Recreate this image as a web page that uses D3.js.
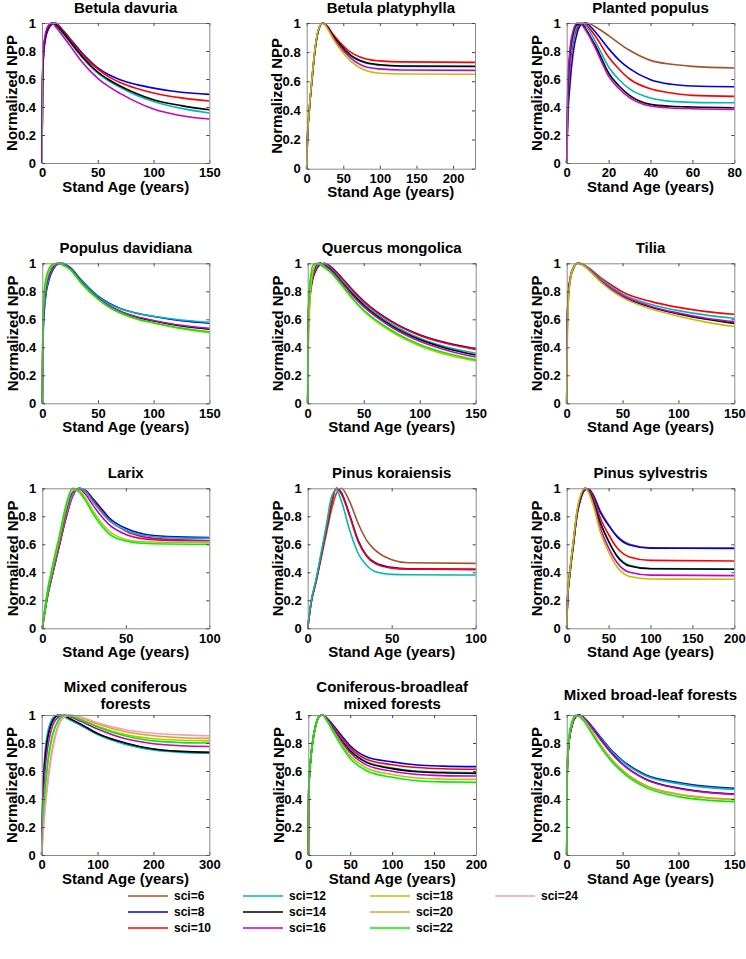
<!DOCTYPE html>
<html>
<head>
<meta charset="utf-8">
<title>Normalized NPP vs stand age</title>
<script src="https://d3js.org/d3.v7.min.js"></script>
<style>
body { margin: 0; background: #fff; }
svg { font-family: "Liberation Sans", Arial, sans-serif; font-weight: bold; }
.axis path { stroke: #8a8a8a; }
.axis line { stroke: #444; }
.axis text { font-family: "Liberation Sans", Arial, sans-serif; font-size: 13px; font-weight: bold; fill: #000; }
.curve { fill: none; stroke-width: 1.6; }
.title, .xlab, .ylab { font-size: 15px; fill: #000; }
.legend text { font-size: 12px; fill: #000; }
</style>
</head>
<body>
<div id="chart"></div>
<script>

/* categories */
var sciLevels = [6, 8, 10, 12, 14, 16, 18, 20, 22, 24];
var panelTitles = [
  ["Betula davuria"], ["Betula platyphylla"], ["Planted populus"],
  ["Populus davidiana"], ["Quercus mongolica"], ["Tilia"],
  ["Larix"], ["Pinus koraiensis"], ["Pinus sylvestris"],
  ["Mixed coniferous", "forests"], ["Coniferous-broadleaf", "mixed forests"], ["Mixed broad-leaf forests"]
];
var ageMax = [150, 230, 80, 150, 150, 150, 100, 100, 200, 300, 200, 150];
var ageTicks = [
  [0, 50, 100, 150], [0, 50, 100, 150, 200], [0, 20, 40, 60, 80],
  [0, 50, 100, 150], [0, 50, 100, 150], [0, 50, 100, 150],
  [0, 50, 100], [0, 50, 100], [0, 50, 100, 150, 200],
  [0, 100, 200, 300], [0, 50, 100, 150, 200], [0, 50, 100, 150]
];
var nppTicks = [0, 0.2, 0.4, 0.6, 0.8, 1];

/* series values */
var ageBetulaDav = [0, 0.5, 1.5, 3, 6, 9, 12, 18, 25, 35, 50, 60, 70, 85, 100, 125, 150];
var nppBetulaDav = {
  8:  [0, 0.55, 0.78, 0.88, 0.96, 0.99, 1.0, 0.955, 0.89, 0.795, 0.68, 0.63, 0.595, 0.56, 0.535, 0.505, 0.49],
  10: [0, 0.58, 0.80, 0.90, 0.97, 0.995, 0.998, 0.95, 0.883, 0.785, 0.67, 0.615, 0.575, 0.532, 0.50, 0.465, 0.443],
  12: [0, 0.60, 0.82, 0.91, 0.98, 1.0, 0.985, 0.935, 0.865, 0.763, 0.642, 0.585, 0.54, 0.482, 0.44, 0.39, 0.357],
  14: [0, 0.60, 0.80, 0.90, 0.975, 1.0, 0.99, 0.94, 0.87, 0.77, 0.65, 0.595, 0.55, 0.495, 0.452, 0.41, 0.38],
  16: [0, 0.62, 0.83, 0.92, 0.985, 1.0, 0.975, 0.915, 0.84, 0.73, 0.605, 0.545, 0.497, 0.435, 0.385, 0.338, 0.314]
};

var ageBetulaPla = [0, 1, 3.5, 7, 11, 16, 22, 28, 35, 45, 60, 80, 100, 130, 230];
var nppBetulaPla = {
  10: [0, 0.2, 0.4, 0.6, 0.8, 0.95, 1.0, 0.98, 0.93, 0.87, 0.80, 0.755, 0.74, 0.733, 0.73],
  12: [0, 0.2, 0.4, 0.6, 0.8, 0.95, 1.0, 0.975, 0.918, 0.85, 0.775, 0.725, 0.71, 0.702, 0.70],
  14: [0, 0.2, 0.4, 0.6, 0.8, 0.95, 1.0, 0.975, 0.92, 0.855, 0.78, 0.73, 0.713, 0.705, 0.703],
  16: [0, 0.2, 0.4, 0.6, 0.8, 0.95, 1.0, 0.97, 0.91, 0.84, 0.76, 0.70, 0.685, 0.677, 0.675],
  18: [0, 0.21, 0.41, 0.61, 0.81, 0.955, 1.0, 0.965, 0.90, 0.825, 0.74, 0.675, 0.655, 0.65, 0.648]
};

var agePlanted = [0, 0.5, 1.5, 3, 5, 7, 9, 11, 14, 20, 25, 30, 40, 50, 60, 80];
var nppPlanted = {
  6:  [0, 0.4, 0.7, 0.87, 0.96, 0.99, 1.0, 0.995, 0.97, 0.91, 0.855, 0.805, 0.733, 0.705, 0.69, 0.679],
  8:  [0, 0.3, 0.55, 0.78, 0.93, 0.99, 1.0, 0.98, 0.93, 0.817, 0.735, 0.674, 0.595, 0.562, 0.55, 0.545],
  10: [0, 0.4, 0.68, 0.86, 0.97, 1.0, 0.99, 0.96, 0.9, 0.757, 0.67, 0.60, 0.53, 0.50, 0.483, 0.476],
  12: [0, 0.45, 0.72, 0.88, 0.98, 1.0, 0.98, 0.94, 0.86, 0.686, 0.595, 0.53, 0.464, 0.44, 0.433, 0.43],
  14: [0, 0.5, 0.77, 0.92, 0.99, 0.995, 0.96, 0.91, 0.83, 0.643, 0.55, 0.483, 0.419, 0.405, 0.40, 0.395],
  16: [0, 0.55, 0.8, 0.94, 1.0, 0.99, 0.95, 0.9, 0.81, 0.62, 0.53, 0.467, 0.407, 0.393, 0.388, 0.383]
};

var agePopulusDav = [0, 0.5, 1.5, 3, 6, 10, 14, 18, 25, 35, 50, 60, 70, 85, 100, 125, 150];
var nppPopulusDav = {
  8:  [0, 0.4, 0.62, 0.76, 0.88, 0.96, 0.995, 1.0, 0.97, 0.88, 0.765, 0.715, 0.678, 0.643, 0.62, 0.59, 0.572],
  12: [0, 0.45, 0.65, 0.78, 0.9, 0.97, 0.998, 0.998, 0.965, 0.875, 0.76, 0.71, 0.675, 0.642, 0.622, 0.595, 0.578],
  14: [0, 0.5, 0.7, 0.82, 0.92, 0.98, 1.0, 0.995, 0.96, 0.865, 0.75, 0.695, 0.655, 0.615, 0.588, 0.552, 0.529],
  16: [0, 0.5, 0.7, 0.82, 0.92, 0.98, 1.0, 0.995, 0.96, 0.866, 0.75, 0.697, 0.658, 0.618, 0.592, 0.557, 0.535],
  18: [0, 0.55, 0.74, 0.85, 0.94, 0.99, 1.0, 0.99, 0.955, 0.858, 0.742, 0.685, 0.643, 0.60, 0.572, 0.532, 0.505],
  22: [0, 0.6, 0.78, 0.88, 0.96, 0.995, 1.0, 0.99, 0.955, 0.86, 0.745, 0.688, 0.647, 0.604, 0.576, 0.537, 0.51]
};

var ageQuercus = [0, 0.5, 1.5, 3, 5, 8, 11, 15, 20, 30, 40, 50, 75, 100, 125, 150];
var nppQuercus = {
  8:  [0, 0.5, 0.7, 0.82, 0.9, 0.96, 0.99, 1.0, 0.98, 0.90, 0.81, 0.73, 0.585, 0.49, 0.43, 0.39],
  10: [0, 0.52, 0.72, 0.84, 0.91, 0.97, 0.995, 0.998, 0.975, 0.895, 0.805, 0.725, 0.58, 0.485, 0.425, 0.385],
  12: [0, 0.55, 0.75, 0.86, 0.93, 0.98, 1.0, 0.99, 0.965, 0.88, 0.79, 0.71, 0.565, 0.465, 0.40, 0.358],
  14: [0, 0.58, 0.77, 0.88, 0.94, 0.99, 1.0, 0.985, 0.96, 0.87, 0.78, 0.70, 0.553, 0.455, 0.39, 0.345],
  16: [0, 0.6, 0.79, 0.89, 0.95, 0.995, 1.0, 0.98, 0.955, 0.865, 0.77, 0.69, 0.543, 0.443, 0.377, 0.33],
  18: [0, 0.35, 0.65, 0.85, 0.95, 0.995, 0.995, 0.975, 0.94, 0.845, 0.745, 0.66, 0.51, 0.41, 0.345, 0.302],
  22: [0, 0.6, 0.82, 0.93, 0.99, 1.0, 0.99, 0.97, 0.94, 0.85, 0.75, 0.665, 0.52, 0.42, 0.355, 0.31]
};

var ageTilia = [0, 0.5, 1.5, 3, 6, 10, 14, 20, 30, 40, 50, 75, 100, 125, 150];
var nppTilia = {
  10: [0, 0.55, 0.75, 0.87, 0.96, 1.0, 0.995, 0.965, 0.9, 0.845, 0.795, 0.728, 0.685, 0.655, 0.636],
  12: [0, 0.56, 0.76, 0.88, 0.965, 1.0, 0.993, 0.96, 0.89, 0.83, 0.78, 0.708, 0.662, 0.63, 0.607],
  14: [0, 0.58, 0.78, 0.89, 0.97, 1.0, 0.99, 0.953, 0.877, 0.815, 0.765, 0.688, 0.638, 0.6, 0.571],
  16: [0, 0.57, 0.77, 0.885, 0.97, 1.0, 0.99, 0.955, 0.88, 0.82, 0.77, 0.694, 0.645, 0.608, 0.583],
  18: [0, 0.4, 0.7, 0.87, 0.97, 1.0, 0.988, 0.95, 0.87, 0.805, 0.755, 0.675, 0.622, 0.58, 0.548]
};

var ageLarix = [0, 3, 6, 10, 14, 18, 22, 26, 30, 35, 40, 50, 60, 75, 100];
var nppLarix = {
  8:  [0, 0.22, 0.38, 0.58, 0.78, 0.94, 1.0, 0.985, 0.93, 0.86, 0.79, 0.714, 0.675, 0.655, 0.648],
  10: [0, 0.22, 0.38, 0.58, 0.78, 0.94, 1.0, 0.98, 0.92, 0.845, 0.775, 0.695, 0.655, 0.635, 0.627],
  12: [0, 0.23, 0.39, 0.60, 0.80, 0.95, 1.0, 0.975, 0.91, 0.835, 0.77, 0.70, 0.665, 0.648, 0.643],
  16: [0, 0.24, 0.40, 0.61, 0.82, 0.97, 0.995, 0.955, 0.885, 0.805, 0.74, 0.67, 0.64, 0.628, 0.625],
  18: [0, 0.25, 0.42, 0.63, 0.85, 0.99, 0.985, 0.925, 0.845, 0.76, 0.695, 0.635, 0.618, 0.615, 0.614],
  22: [0, 0.26, 0.44, 0.65, 0.87, 1.0, 0.975, 0.91, 0.825, 0.74, 0.675, 0.624, 0.607, 0.602, 0.60]
};

var ageKoraiensis = [0, 2, 5, 8, 11, 14, 17, 20, 25, 30, 35, 40, 50, 60, 100];
var nppKoraiensis = {
  6:  [0, 0.18, 0.33, 0.50, 0.67, 0.84, 0.96, 1.0, 0.905, 0.75, 0.63, 0.56, 0.49, 0.468, 0.464],
  8:  [0, 0.18, 0.34, 0.52, 0.70, 0.88, 1.0, 0.97, 0.81, 0.63, 0.52, 0.47, 0.435, 0.425, 0.421],
  10: [0, 0.18, 0.34, 0.52, 0.70, 0.88, 1.0, 0.96, 0.80, 0.62, 0.515, 0.464, 0.43, 0.423, 0.421],
  12: [0, 0.19, 0.35, 0.54, 0.73, 0.93, 0.99, 0.91, 0.70, 0.536, 0.45, 0.405, 0.385, 0.382, 0.381]
};

var ageSylvestris = [0, 1, 4, 8, 12, 17, 22, 26, 32, 40, 50, 60, 75, 100, 200];
var nppSylvestris = {
  6:  [0, 0.2, 0.4, 0.6, 0.8, 0.93, 0.99, 0.995, 0.95, 0.84, 0.74, 0.66, 0.60, 0.575, 0.572],
  8:  [0, 0.2, 0.4, 0.6, 0.8, 0.93, 0.99, 0.995, 0.945, 0.83, 0.735, 0.655, 0.595, 0.573, 0.571],
  10: [0, 0.2, 0.4, 0.6, 0.8, 0.935, 0.995, 0.99, 0.93, 0.79, 0.67, 0.575, 0.51, 0.485, 0.481],
  12: [0, 0.2, 0.41, 0.61, 0.81, 0.94, 1.0, 0.985, 0.91, 0.76, 0.625, 0.52, 0.45, 0.427, 0.424],
  14: [0, 0.2, 0.41, 0.61, 0.81, 0.94, 1.0, 0.985, 0.905, 0.755, 0.62, 0.515, 0.445, 0.425, 0.422],
  16: [0, 0.21, 0.42, 0.62, 0.82, 0.95, 1.0, 0.98, 0.89, 0.72, 0.575, 0.47, 0.40, 0.38, 0.376],
  18: [0, 0.21, 0.42, 0.63, 0.83, 0.96, 1.0, 0.97, 0.87, 0.69, 0.545, 0.44, 0.37, 0.352, 0.35]
};

var ageMixedCon = [0, 2, 5, 10, 15, 20, 30, 40, 50, 70, 100, 150, 200, 250, 300];
var nppMixedCon = {
  8:  [0, 0.40, 0.65, 0.83, 0.92, 0.97, 1.0, 0.99, 0.97, 0.93, 0.865, 0.795, 0.755, 0.738, 0.732],
  12: [0, 0.42, 0.68, 0.86, 0.94, 0.98, 1.0, 0.99, 0.965, 0.925, 0.86, 0.79, 0.75, 0.733, 0.727],
  14: [0, 0.38, 0.63, 0.82, 0.91, 0.96, 0.995, 0.995, 0.975, 0.935, 0.868, 0.80, 0.757, 0.74, 0.733],
  16: [0, 0.30, 0.55, 0.75, 0.86, 0.93, 0.985, 1.0, 0.99, 0.955, 0.90, 0.83, 0.795, 0.78, 0.775],
  18: [0, 0.20, 0.40, 0.62, 0.76, 0.86, 0.96, 0.995, 0.995, 0.97, 0.92, 0.86, 0.83, 0.82, 0.815],
  20: [0, 0.15, 0.30, 0.50, 0.66, 0.78, 0.93, 0.99, 1.0, 0.98, 0.935, 0.88, 0.852, 0.838, 0.833],
  22: [0, 0.22, 0.42, 0.64, 0.78, 0.87, 0.965, 0.997, 0.995, 0.965, 0.915, 0.85, 0.815, 0.803, 0.80],
  24: [0, 0.12, 0.28, 0.48, 0.64, 0.76, 0.92, 0.985, 1.0, 0.985, 0.945, 0.895, 0.87, 0.858, 0.852]
};

var ageConBroad = [0, 0.5, 2, 5, 9, 13, 17, 22, 30, 40, 50, 70, 100, 130, 160, 200];
var nppConBroad = {
  8:  [0, 0.45, 0.62, 0.80, 0.93, 0.99, 1.0, 0.98, 0.925, 0.85, 0.78, 0.70, 0.665, 0.643, 0.635, 0.631],
  10: [0, 0.45, 0.62, 0.80, 0.93, 0.99, 1.0, 0.975, 0.915, 0.835, 0.765, 0.682, 0.645, 0.625, 0.616, 0.612],
  12: [0, 0.45, 0.62, 0.80, 0.93, 0.99, 1.0, 0.972, 0.905, 0.82, 0.75, 0.665, 0.622, 0.60, 0.592, 0.588],
  14: [0, 0.45, 0.62, 0.80, 0.93, 0.99, 1.0, 0.97, 0.90, 0.815, 0.745, 0.66, 0.617, 0.595, 0.587, 0.583],
  16: [0, 0.45, 0.62, 0.80, 0.93, 0.99, 1.0, 0.968, 0.895, 0.805, 0.73, 0.642, 0.598, 0.575, 0.567, 0.564],
  18: [0, 0.45, 0.62, 0.80, 0.93, 0.99, 1.0, 0.963, 0.885, 0.79, 0.71, 0.62, 0.575, 0.55, 0.543, 0.54],
  22: [0, 0.45, 0.62, 0.80, 0.93, 0.99, 1.0, 0.96, 0.875, 0.775, 0.69, 0.60, 0.555, 0.53, 0.522, 0.52]
};

var ageMixedBroad = [0, 0.5, 2, 5, 8, 11, 15, 20, 30, 40, 50, 70, 100, 125, 150];
var nppMixedBroad = {
  8:  [0, 0.60, 0.80, 0.93, 0.985, 1.0, 0.985, 0.945, 0.845, 0.75, 0.675, 0.575, 0.517, 0.49, 0.476],
  12: [0, 0.60, 0.80, 0.93, 0.985, 1.0, 0.983, 0.94, 0.84, 0.745, 0.668, 0.568, 0.51, 0.483, 0.469],
  14: [0, 0.60, 0.80, 0.935, 0.99, 1.0, 0.98, 0.935, 0.83, 0.73, 0.65, 0.545, 0.478, 0.45, 0.436],
  16: [0, 0.60, 0.80, 0.935, 0.99, 1.0, 0.98, 0.933, 0.827, 0.727, 0.647, 0.542, 0.475, 0.447, 0.433],
  18: [0, 0.62, 0.82, 0.95, 0.995, 0.995, 0.97, 0.915, 0.79, 0.685, 0.605, 0.50, 0.435, 0.41, 0.398],
  20: [0, 0.62, 0.82, 0.95, 0.995, 0.995, 0.968, 0.912, 0.787, 0.682, 0.602, 0.497, 0.432, 0.407, 0.395],
  22: [0, 0.65, 0.85, 0.96, 1.0, 0.99, 0.96, 0.90, 0.774, 0.67, 0.59, 0.485, 0.417, 0.392, 0.381]
};

var panelAges = [ageBetulaDav, ageBetulaPla, agePlanted, agePopulusDav, ageQuercus, ageTilia,
                 ageLarix, ageKoraiensis, ageSylvestris, ageMixedCon, ageConBroad, ageMixedBroad];
var panelNpp = [nppBetulaDav, nppBetulaPla, nppPlanted, nppPopulusDav, nppQuercus, nppTilia,
                nppLarix, nppKoraiensis, nppSylvestris, nppMixedCon, nppConBroad, nppMixedBroad];

/* layout and styles */
var width = 746, height = 959;
// plot box per panel: left, top, right, bottom
var plotBoxes = [
  [42, 23, 209.3, 163], [306.7, 23, 475, 168.7], [566.7, 23, 734.3, 163],
  [42.3, 263.3, 209.3, 403.3], [307.7, 263.3, 475.7, 403.3], [566.7, 263.3, 734.3, 403.3],
  [42.3, 488.3, 209.3, 628.3], [307.7, 488.3, 475.7, 628.3], [566.7, 488.3, 734.3, 628.3],
  [41.7, 715, 209.3, 855], [308.3, 715, 476, 855], [566.7, 715, 734.3, 855]
];
var sciColors = {
  6: "#a5522a", 8: "#0000e6", 10: "#ff0000", 12: "#00b8b8", 14: "#000000",
  16: "#c800c8", 18: "#c0c000", 20: "#d9a03a", 22: "#00f000", 24: "#f0a0b0"
};

var svg = d3.select("#chart").append("svg")
  .attr("width", width)
  .attr("height", height);

var tickLen = 3;

panelTitles.forEach(function(title, p) {
  var b = plotBoxes[p];
  var x = d3.scaleLinear().domain([0, ageMax[p]]).range([b[0], b[2]]);
  var y = d3.scaleLinear().domain([0, 1]).range([b[3], b[1]]);
  var g = svg.append("g").attr("class", "panel");

  /* curves */
  var ages = panelAges[p];
  var series = sciLevels.filter(function(s) { return panelNpp[p][s]; });
  var line = d3.line()
    .x(function(d, i) { return x(ages[i]); })
    .y(function(d) { return y(d); })
    .curve(d3.curveMonotoneX);

  g.append("g").selectAll("path")
    .data(series).enter()
    .append("path")
    .attr("class", "curve")
    .attr("d", function(s) { return line(panelNpp[p][s]); })
    .style("stroke", function(s) { return sciColors[s]; });

  /* axes, box with inward ticks */
  var fmtY = function(d) { return (d === 0 || d === 1) ? String(d) : d3.format(".1f")(d); };
  g.append("g").attr("class", "axis")
    .attr("transform", "translate(0," + b[3] + ")")
    .call(d3.axisBottom(x).tickValues(ageTicks[p]).tickSize(-tickLen).tickSizeOuter(0).tickPadding(5));
  g.append("g").attr("class", "axis")
    .attr("transform", "translate(0," + b[1] + ")")
    .call(d3.axisTop(x).tickValues(ageTicks[p]).tickSize(-tickLen).tickSizeOuter(0).tickFormat(""));
  g.append("g").attr("class", "axis")
    .attr("transform", "translate(" + b[0] + ",0)")
    .call(d3.axisLeft(y).tickValues(nppTicks).tickSize(-tickLen).tickSizeOuter(0).tickPadding(6).tickFormat(fmtY));
  g.append("g").attr("class", "axis")
    .attr("transform", "translate(" + b[2] + ",0)")
    .call(d3.axisRight(y).tickValues(nppTicks).tickSize(-tickLen).tickSizeOuter(0).tickFormat(""));

  /* titles */
  var cx = (b[0] + b[2]) / 2;
  var cy = (b[1] + b[3]) / 2;
  var titleBase;
  if (title.length === 2) titleBase = [b[1] - 23, b[1] - 6.5];
  else if (p >= 9) titleBase = [b[1] - 15.3];
  else titleBase = [b[1] - 10];
  title.forEach(function(t, k) {
    g.append("text").attr("class", "title")
      .attr("x", cx).attr("y", titleBase[k])
      .attr("text-anchor", "middle")
      .text(t);
  });

  g.append("text").attr("class", "xlab")
    .attr("x", cx).attr("y", b[3] + 28.5)
    .attr("text-anchor", "middle")
    .text("Stand Age (years)");

  g.append("text").attr("class", "ylab")
    .attr("transform", "translate(" + (b[0] - 24.6) + "," + cy + ") rotate(-90)")
    .attr("text-anchor", "middle")
    .text("Normalized NPP");
});

/* legend */
var legCols = [128, 243, 370, 495];
var legRows = [896, 912, 928];
var legLen = 40;
var legend = svg.append("g").attr("class", "legend");
var item = legend.selectAll("g")
  .data(sciLevels).enter()
  .append("g")
  .attr("transform", function(s, i) {
    return "translate(" + legCols[Math.floor(i / 3)] + "," + legRows[i % 3] + ")";
  });
item.append("line")
  .attr("x1", 0).attr("x2", legLen)
  .attr("y1", 0).attr("y2", 0)
  .style("stroke", function(s) { return sciColors[s]; })
  .style("stroke-width", 1.6);
item.append("text")
  .attr("x", legLen + 6).attr("y", 4)
  .text(function(s) { return "sci=" + s; });

</script>
</body>
</html>
